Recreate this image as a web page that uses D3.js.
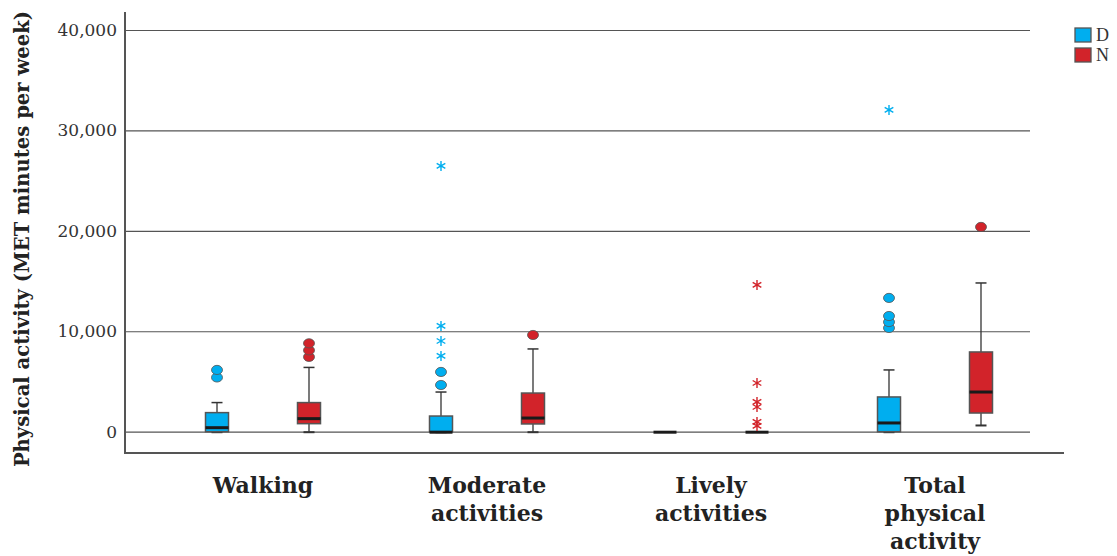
<!DOCTYPE html>
<html>
<head>
<meta charset="utf-8">
<script src="https://cdn.jsdelivr.net/npm/d3@7"></script>
<style>
  html, body { margin: 0; padding: 0; background: #fff; }
  svg { display: block; }
</style>
</head>
<body>
<svg id="chart" width="1117" height="556"></svg>
<script>
// Physical activity (MET minutes per week) by activity type, groups D and N
const categories = ["Walking", "Moderate activities", "Lively activities", "Total physical activity"];
const categoryLines = [["Walking"], ["Moderate", "activities"], ["Lively", "activities"], ["Total", "physical", "activity"]];
const groups = ["D", "N"];
const yTicks = [0, 10000, 20000, 30000, 40000];

// Box statistics per category, in the order of `categories`
const dLow    = [0,    0,    0, 0];
const dQ1     = [0,    0,    0, 0];
const dMedian = [400,  0,    0, 870];
const dQ3     = [1900, 1560, 0, 3460];
const dHigh   = [2900, 3950, 0, 6150];
const dOutliers = [[5400, 6150], [4650, 5950], [], [10330, 10920, 11520, 13320]];
const dExtremes = [[], [7540, 9030, 10530, 26460], [], [32040]];

const nLow    = [0,    0,    0, 670];
const nQ1     = [800,  770,  0, 1860];
const nMedian = [1300, 1360, 0, 3950];
const nQ3     = [2900, 3850, 0, 7940];
const nHigh   = [6400, 8240, 0, 14810];
const nOutliers = [[7450, 8100, 8800], [9630], [], [20390]];
const nExtremes = [[], [], [570, 970, 2460, 2960, 4850, 14610], []];

const colors = { D: "#00AEEF", N: "#D2232A" };

const boxes = [];
categories.forEach((c, i) => {
  boxes.push({ cat: c, group: "D", low: dLow[i], q1: dQ1[i], med: dMedian[i], q3: dQ3[i], high: dHigh[i], out: dOutliers[i], ext: dExtremes[i] });
  boxes.push({ cat: c, group: "N", low: nLow[i], q1: nQ1[i], med: nMedian[i], q3: nQ3[i], high: nHigh[i], out: nOutliers[i], ext: nExtremes[i] });
});

const svg = d3.select("#chart");
const serif = "'DejaVu Serif', serif";

const y = d3.scaleLinear().domain([0, 40000]).range([431.7, 30]);
const x = d3.scaleBand().domain(categories).range([151, 1047]);
const xg = d3.scalePoint().domain(groups).range([-46, 46]);
const cx = d => x(d.cat) + x.bandwidth() / 2 + xg(d.group);

const plotLeft = 125, plotBottom = 453, gridRight = 1030;
const boxW = 23, capW = 11;

// Gridlines and tick labels
const yAxis = d3.axisLeft(y).tickValues(yTicks).tickFormat(d3.format(",")).tickSize(-(gridRight - plotLeft)).tickPadding(8);
const gAxis = svg.append("g").attr("transform", `translate(${plotLeft},0)`).call(yAxis);
gAxis.select(".domain").remove();
gAxis.selectAll(".tick line").attr("stroke", "#555").attr("stroke-width", 1.2);
gAxis.selectAll(".tick text").attr("font-family", serif).attr("font-size", 17).attr("fill", "#333");

// Axis frame
svg.append("line").attr("x1", plotLeft).attr("x2", plotLeft).attr("y1", 12).attr("y2", plotBottom + 1)
  .attr("stroke", "#555").attr("stroke-width", 2);
svg.append("line").attr("x1", plotLeft).attr("x2", 1064).attr("y1", plotBottom).attr("y2", plotBottom)
  .attr("stroke", "#555").attr("stroke-width", 2);

// Y axis title
svg.append("text")
  .attr("transform", `translate(29,239) rotate(-90)`)
  .attr("text-anchor", "middle")
  .attr("font-family", serif).attr("font-weight", "bold").attr("font-size", 19.6).attr("fill", "#222")
  .text("Physical activity (MET minutes per week)");

// Category labels
const catLabels = svg.append("g").selectAll("text").data(categories).join("text")
  .attr("text-anchor", "middle")
  .attr("font-family", serif).attr("font-weight", "bold").attr("font-size", 22).attr("fill", "#222")
  .attr("transform", c => `translate(${x(c) + x.bandwidth() / 2},493)`);
catLabels.each(function(c, i) {
  d3.select(this).selectAll("tspan").data(categoryLines[i]).join("tspan")
    .attr("x", 0).attr("dy", (d, j) => j === 0 ? 0 : 28).text(d => d);
});

// Box plots
const g = svg.append("g").selectAll("g").data(boxes).join("g");

// whiskers
g.append("line").attr("x1", cx).attr("x2", cx).attr("y1", d => y(d.high)).attr("y2", d => y(d.low))
  .attr("stroke", "#333").attr("stroke-width", 1.3);
g.filter(d => d.high > d.q3).append("line")
  .attr("x1", d => cx(d) - capW / 2).attr("x2", d => cx(d) + capW / 2)
  .attr("y1", d => y(d.high)).attr("y2", d => y(d.high))
  .attr("stroke", "#333").attr("stroke-width", 1.5);
g.filter(d => d.q3 > 0).append("line")
  .attr("x1", d => cx(d) - capW / 2).attr("x2", d => cx(d) + capW / 2)
  .attr("y1", d => y(d.low) + 0.5).attr("y2", d => y(d.low) + 0.5)
  .attr("stroke", "#333").attr("stroke-width", 2);

// boxes
g.filter(d => d.q3 > d.q1).append("rect")
  .attr("x", d => cx(d) - boxW / 2).attr("width", boxW)
  .attr("y", d => y(d.q3)).attr("height", d => y(d.q1) - y(d.q3))
  .attr("fill", d => colors[d.group]).attr("stroke", "#555").attr("stroke-width", 1.5);

// medians
g.append("line")
  .attr("x1", d => cx(d) - boxW / 2).attr("x2", d => cx(d) + boxW / 2)
  .attr("y1", d => y(d.med) + (d.med === 0 ? 0.5 : 0)).attr("y2", d => y(d.med) + (d.med === 0 ? 0.5 : 0))
  .attr("stroke", "#1a1a1a").attr("stroke-width", 3);

// outliers (circles) and extremes (asterisks)
g.each(function(d) {
  d3.select(this).selectAll("ellipse").data(d.out).join("ellipse")
    .attr("cx", cx(d)).attr("cy", v => y(v)).attr("rx", 5.5).attr("ry", 4.6)
    .attr("fill", colors[d.group]).attr("stroke", "#555").attr("stroke-width", 0.8);
  d3.select(this).selectAll("path.ext").data(d.ext).join("path").attr("class", "ext")
    .attr("transform", v => `translate(${cx(d)},${y(v)})`)
    .attr("d", d3.symbol(d3.symbolAsterisk, 70)())
    .attr("fill", "none").attr("stroke", colors[d.group]).attr("stroke-width", 1.4);
});

// Legend
const legend = svg.append("g").selectAll("g").data(groups).join("g")
  .attr("transform", (d, i) => `translate(1075,${28 + i * 20})`);
legend.append("rect").attr("width", 16).attr("height", 14)
  .attr("fill", d => colors[d]).attr("stroke", "#555").attr("stroke-width", 1.3);
legend.append("text").attr("x", 21).attr("y", 13)
  .attr("font-family", "'Liberation Serif', serif").attr("font-size", 18).attr("fill", "#333")
  .text(d => d);
</script>
</body>
</html>
